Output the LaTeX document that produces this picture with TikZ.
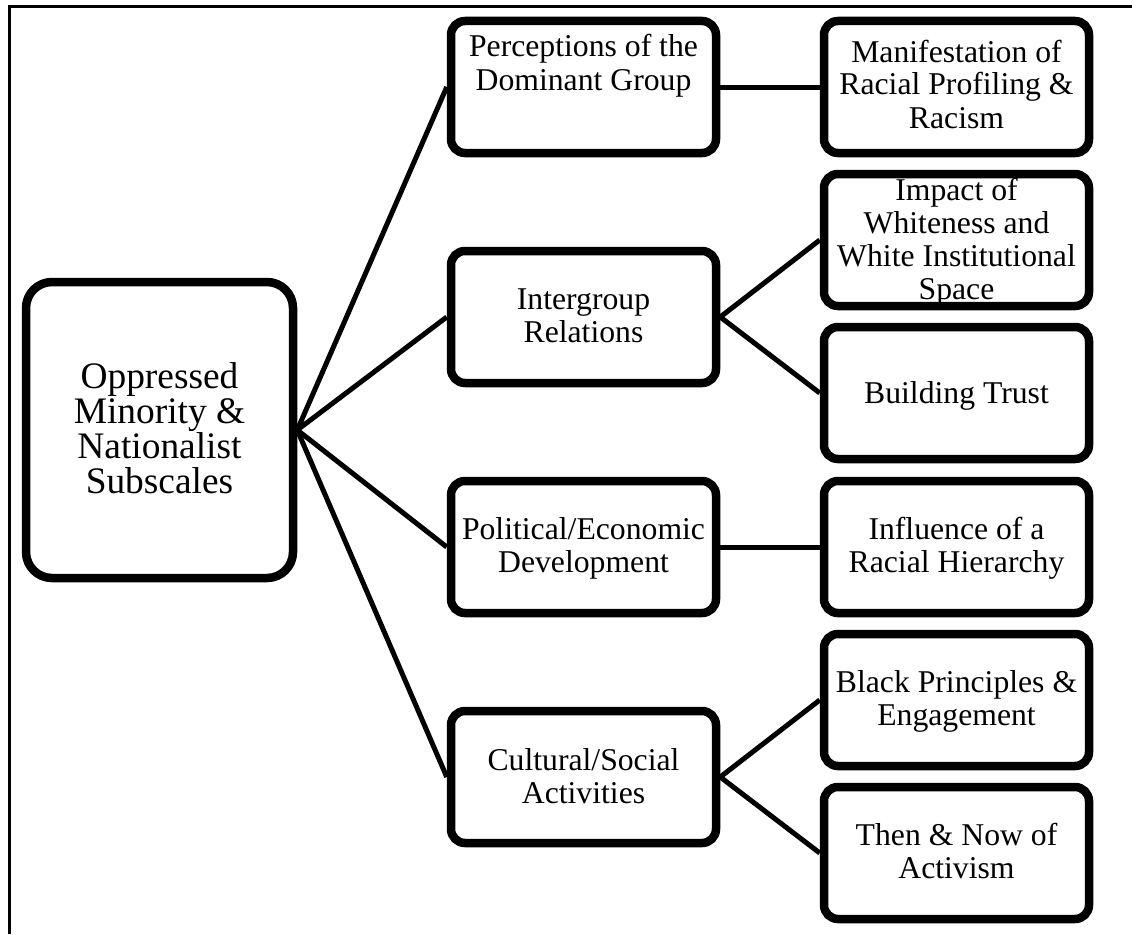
\documentclass[tikz,border=0pt]{standalone}
\usepackage{fontspec}
\setmainfont{Liberation Serif}
\usetikzlibrary{shadows}
\begin{document}
\begin{tikzpicture}[x=1pt,y=-1pt,
  box/.style={draw=black, line width=8.5pt, rounded corners=14pt, fill=white,
    minimum width=265pt, minimum height=132pt, inner sep=0pt,
    drop shadow={shadow xshift=1pt, shadow yshift=-3pt, opacity=0.18}},
  rootbox/.style={box, rounded corners=26pt, minimum width=267pt, minimum height=296pt},
  boxtext/.style={anchor=base, align=center, inner sep=0pt,
    font=\fontsize{31.7}{33}\selectfont},
  roottext/.style={boxtext, font=\fontsize{37.4}{35}\selectfont},
  link/.style={line width=5pt}]
\useasboundingbox (0,0) rectangle (1132,934);

% outer frame (top and left edges)
\draw[line width=3pt] (1132,7) -- (9,7) -- (9,934);

% boxes
\node[rootbox] (root) at (159.5,430) {};
\node[box] (p1) at (583.5,87) {};
\node[box] (p2) at (583.5,317) {};
\node[box] (p3) at (583.5,547) {};
\node[box] (p4) at (583.5,777) {};
\node[box] (c1) at (956.5,87) {};
\node[box] (c2) at (956.5,240) {};
\node[box] (c3) at (956.5,393) {};
\node[box] (c4) at (956.5,547) {};
\node[box] (c5) at (956.5,700) {};
\node[box] (c6) at (956.5,853) {};

% connectors
\foreach \p in {p1,p2,p3,p4} \draw[link] (root.east) -- (\p.west);
\draw[link] (p1.east) -- (c1.west);
\draw[link] (p2.east) -- (c2.west);
\draw[link] (p2.east) -- (c3.west);
\draw[link] (p3.east) -- (c4.west);
\draw[link] (p4.east) -- (c5.west);
\draw[link] (p4.east) -- (c6.west);

% texts (placed by the baseline of their last line)
\node[roottext] (troot) at (159.5,493) {Oppressed\\Minority \&\\Nationalist\\Subscales};
\node[boxtext] (tp1) at (583.5,90) {Perceptions of the\\Dominant Group};
\node[boxtext] (tp2) at (583.5,342) {Intergroup\\Relations};
\node[boxtext] (tp3) at (583.5,572) {Political/Economic\\Development};
\node[boxtext] (tp4) at (583.5,803) {Cultural/Social\\Activities};
\node[boxtext] (tc1) at (956.5,128) {Manifestation of\\Racial Profiling \&\\Racism};
\node[boxtext] (tc2) at (956.5,299) {Impact of\\Whiteness and\\White Institutional\\Space};
\node[boxtext] (tc3) at (956.5,403) {Building Trust};
\node[boxtext] (tc4) at (956.5,572) {Influence of a\\Racial Hierarchy};
\node[boxtext] (tc5) at (956.5,725) {Black Principles \&\\Engagement};
\node[boxtext] (tc6) at (956.5,878) {Then \& Now of\\Activism};
\end{tikzpicture}
\end{document}
